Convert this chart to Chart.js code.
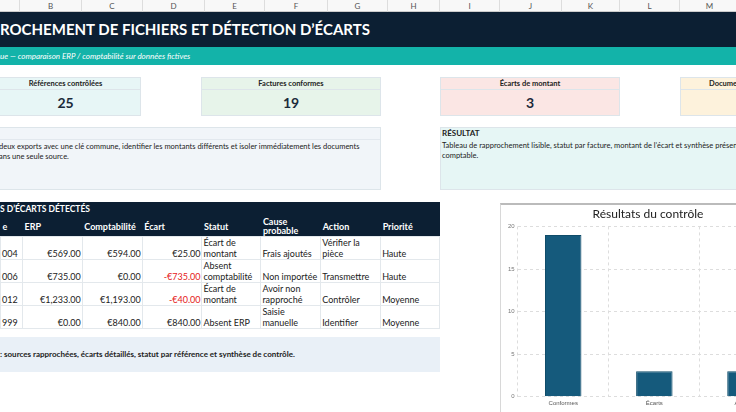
<!DOCTYPE html>
<html><head><meta charset="utf-8">
<script src="https://cdn.jsdelivr.net/npm/chart.js@4"></script>
<style>
body{margin:0;width:736px;height:412px;overflow:hidden;background:#fff;font-family:Lato,"Open Sans",sans-serif;position:relative;color:#222}
.a{position:absolute;box-sizing:border-box}
.col{top:0;height:12px;font-size:8px;color:#555;text-align:center;line-height:12px;border-right:1px solid #ddd;background:#f8f8f8;border-bottom:1px solid #ccc}
.card{border:1px solid #dde5ea}
.card .h{height:11px;font-size:7.5px;font-weight:bold;text-align:center;line-height:11px;border-bottom:1px solid #dde5ea}
.card .v{font-size:14px;font-weight:bold;text-align:center;line-height:26px;color:#1b2a3a}
table{border-collapse:collapse;font-size:9px}
td{border:1px solid #e3e8ec;padding:0 1px;height:22px;vertical-align:bottom;line-height:10.5px}
th{color:#fff;text-align:left;font-size:9px;padding:0 2px;height:20px;line-height:9px}
.r{text-align:right}.neg{color:#e52020}
</style></head><body>
<div id="cols"></div>
<div class="a" style="left:0;top:12px;width:736px;height:35px;background:#0c1f33;color:#fff;font-size:15px;font-weight:bold;line-height:35px;padding-left:0">ROCHEMENT DE FICHIERS ET DÉTECTION D’ÉCARTS</div>
<div class="a" style="left:0;top:47px;width:736px;height:18px;background:#13b3a9;color:#fff;font-size:8px;font-style:italic;line-height:18px">ue — comparaison ERP / comptabilité sur données fictives</div>

<div class="a card" style="left:-10px;top:77px;width:151px;height:39px;background:#e7f6f6"><div class="h">Références contrôlées</div><div class="v">25</div></div>
<div class="a card" style="left:201px;top:77px;width:180px;height:39px;background:#e7f4ea"><div class="h">Factures conformes</div><div class="v">19</div></div>
<div class="a card" style="left:440px;top:77px;width:180px;height:39px;background:#fbe6e4"><div class="h">Écarts de montant</div><div class="v">3</div></div>
<div class="a card" style="left:680px;top:77px;width:120px;height:39px;background:#fdf2dc"><div class="h" style="text-align:left;padding-left:28px">Documents absents</div><div class="v"></div></div>

<div class="a" style="left:-2px;top:127px;width:383px;height:63px;background:#f1f5f9;border:1px solid #dde5ea">
 <div style="height:11px;border-bottom:1px solid #e2e8ee"></div>
 <div style="font-size:7.5px;line-height:10px;padding:2px 0 0 0">deux exports avec une clé commune, identifier les montants différents et isoler immédiatement les documents<br>ans une seule source.</div></div>
<div class="a" style="left:440px;top:127px;width:310px;height:63px;background:#e6f6f5;border:1px solid #dde5ea">
 <div style="height:11px;font-size:8px;font-weight:bold;line-height:11px;padding-left:1px">RÉSULTAT</div>
 <div style="font-size:7.5px;line-height:10px;padding:2px 0 0 1px;white-space:nowrap">Tableau de rapprochement lisible, statut par facture, montant de l’écart et synthèse présentable<br>comptable.</div></div>

<div class="a" style="left:0;top:202px;width:440px;background:#0c1f33;height:34px"></div>
<div class="a" style="left:0;top:203px;color:#fff;font-size:8.5px;font-weight:bold;line-height:12px">S D’ÉCARTS DÉTECTÉS</div>
<table class="a" style="left:0;top:216px;width:440px">
<colgroup><col style="width:22px"><col style="width:60px"><col style="width:60px"><col style="width:60px"><col style="width:59px"><col style="width:60px"><col style="width:60px"><col style="width:59px"></colgroup>
<tr><th>e</th><th>ERP</th><th>Comptabilité</th><th>Écart</th><th>Statut</th><th>Cause<br>probable</th><th>Action</th><th>Priorité</th></tr>
<tr><td>004</td><td class="r">€569.00</td><td class="r">€594.00</td><td class="r">€25.00</td><td>Écart de<br>montant</td><td>Frais ajoutés</td><td>Vérifier la<br>pièce</td><td>Haute</td></tr>
<tr><td>006</td><td class="r">€735.00</td><td class="r">€0.00</td><td class="r neg">-€735.00</td><td>Absent<br>comptabilité</td><td>Non importée</td><td>Transmettre</td><td>Haute</td></tr>
<tr><td>012</td><td class="r">€1,233.00</td><td class="r">€1,193.00</td><td class="r neg">-€40.00</td><td>Écart de<br>montant</td><td>Avoir non<br>rapproché</td><td>Contrôler</td><td>Moyenne</td></tr>
<tr><td>999</td><td class="r">€0.00</td><td class="r">€840.00</td><td class="r">€840.00</td><td>Absent ERP</td><td>Saisie<br>manuelle</td><td>Identifier</td><td>Moyenne</td></tr>
</table>
<div class="a" style="left:0;top:337px;width:440px;height:35px;background:#e9f0f7;font-size:8px;font-weight:bold;line-height:35px">: sources rapprochées, écarts détaillés, statut par référence et synthèse de contrôle.</div>

<div class="a" style="left:500px;top:203px;width:300px;height:215px;border:1px solid #d8d8d8;border-top:2px solid #bbb;background:#fff">
 <canvas id="chart" width="290" height="205"></canvas></div>
<script>
const colLetters = ['B','C','D','E','F','G','H','I','J','K','L','M'];
const colEdges = [20,82,143,205,265,328,388,440,500,562,620,680,740];
const categories = ['Conformes','Écarts','Absents'];
const counts = [19,3,3];

const colsEl = document.getElementById('cols');
colsEl.innerHTML += '<div class="a col" style="left:0;width:20px"></div>';
colLetters.forEach((l, i) => {
  colsEl.innerHTML += `<div class="a col" style="left:${colEdges[i]}px;width:${colEdges[i+1]-colEdges[i]}px">${l}</div>`;
});

new Chart(document.getElementById('chart'), {
  type: 'bar',
  data: { labels: categories, datasets: [{ data: counts, backgroundColor: '#155a7c', borderColor: '#0f4c69', borderWidth: 1, categoryPercentage: 1, barPercentage: 0.4 }] },
  options: {
    responsive: false, animation: false,
    layout: { padding: { left: 4, right: 0, top: 0, bottom: 0 } },
    plugins: {
      legend: { display: false },
      title: { display: true, text: 'Résultats du contrôle', color: '#222', font: { family: 'Lato', size: 12, weight: 'normal' }, padding: { top: 2, bottom: 5 } }
    },
    scales: {
      y: { min: 0, max: 20, ticks: { stepSize: 5, color: '#777', font: { size: 6 } }, grid: { color: '#ddd', drawTicks: false }, border: { display: false, dash: [3,3] } },
      x: { ticks: { color: '#555', font: { size: 6 } }, grid: { color: '#ddd', drawTicks: false }, border: { display: false, dash: [3,3] } }
    }
  }
});
</script>
</body></html>
